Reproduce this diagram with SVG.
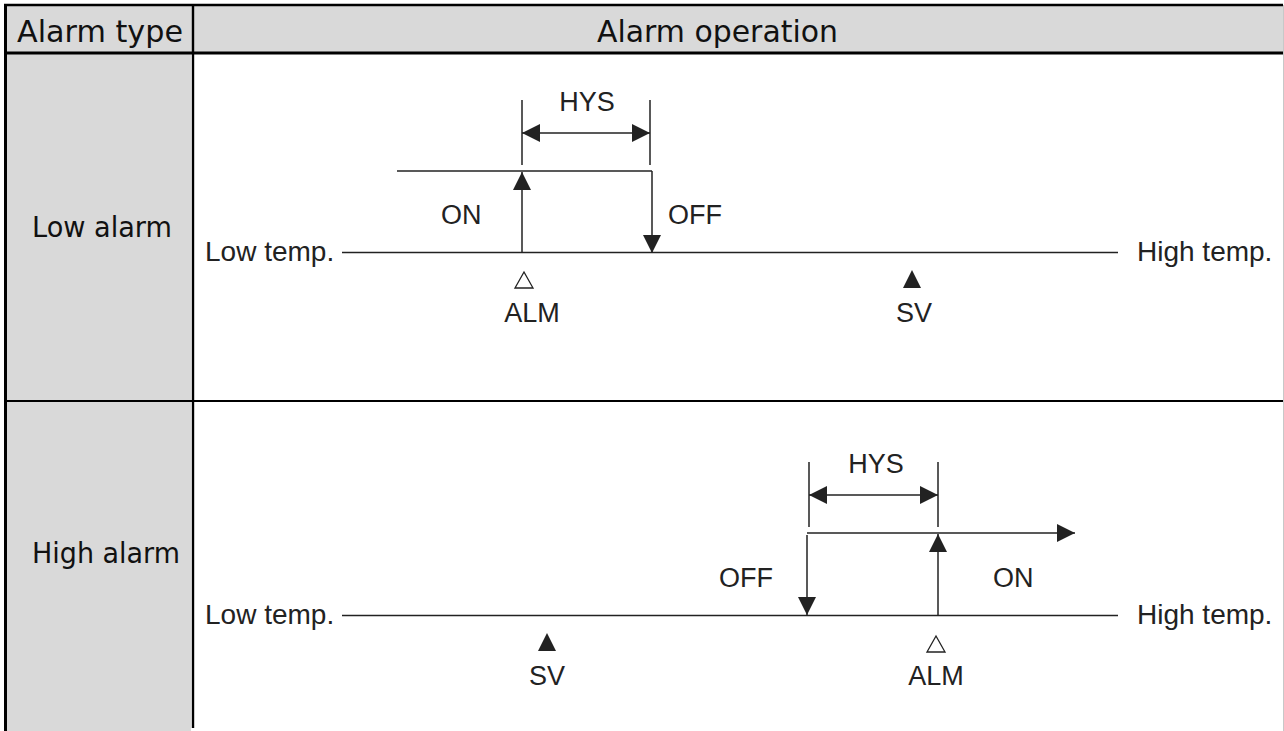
<svg xmlns="http://www.w3.org/2000/svg" width="1284" height="731" viewBox="0 0 1284 731">
<style>
.hdr{font-family:"DejaVu Sans","Liberation Sans",sans-serif;font-size:30px;fill:#111}
.rowlbl{font-family:"DejaVu Sans","Liberation Sans",sans-serif;font-size:28px;fill:#111}
.lbl{font-family:"Liberation Sans",Arial,sans-serif;font-size:27px;fill:#222}
.tmp{font-family:"Liberation Sans",Arial,sans-serif;font-size:28px;fill:#222}
.ln{stroke:#222;stroke-width:1.5;fill:none}
.tb{stroke:#000;fill:none}
.head{fill:#222}
.hollow{fill:#fff;stroke:#222;stroke-width:1.3}
</style>
<defs>
<marker id="ah" markerWidth="18" markerHeight="18" refX="18" refY="9" orient="auto" markerUnits="userSpaceOnUse">
<path d="M0,0 L18,9 L0,18 Z" fill="#222"/>
</marker>
<marker id="ahs" markerWidth="18" markerHeight="18" refX="18" refY="9" orient="auto-start-reverse" markerUnits="userSpaceOnUse">
<path d="M0,0 L18,9 L0,18 Z" fill="#222"/>
</marker>
</defs>
<rect width="1284" height="731" fill="#fff"/>
<g id="table">
<rect x="5" y="5" width="1278" height="48" fill="#d9d9d9"/>
<rect x="5" y="53" width="186" height="678" fill="#d9d9d9"/>
<line class="tb" x1="4" y1="5" x2="1283" y2="5" stroke="#333" stroke-width="2.5"/>
<line class="tb" x1="4" y1="53" x2="1283" y2="53" stroke-width="3"/>
<line class="tb" x1="4" y1="401" x2="1283" y2="401" stroke-width="2"/>
<line class="tb" x1="5.5" y1="4" x2="5.5" y2="731" stroke="#222" stroke-width="3"/>
<line class="tb" x1="193" y1="5" x2="193" y2="728" stroke-width="2.4"/>
<line x1="1283.5" y1="5" x2="1283.5" y2="731" stroke="#c8c8c8" stroke-width="1"/>
<text class="hdr" x="17" y="42" textLength="166" lengthAdjust="spacingAndGlyphs">Alarm type</text>
<text class="hdr" x="597" y="42" textLength="241" lengthAdjust="spacingAndGlyphs">Alarm operation</text>
<text class="rowlbl" x="32" y="237" textLength="140" lengthAdjust="spacingAndGlyphs">Low  alarm</text>
<text class="rowlbl" x="32" y="563" textLength="148" lengthAdjust="spacingAndGlyphs">High  alarm</text>
</g>
<g id="low-alarm">
<text class="tmp" x="205" y="261">Low temp.</text>
<text class="tmp" x="1137" y="261">High temp.</text>
<text class="lbl" x="587" y="111" text-anchor="middle">HYS</text>
<text class="lbl" x="441" y="224">ON</text>
<text class="lbl" x="668" y="224">OFF</text>
<polygon class="hollow" points="524,272 533,288 515,288"/>
<text class="lbl" x="532" y="322" text-anchor="middle">ALM</text>
<polygon class="head" points="912,270 921,288 903,288"/>
<text class="lbl" x="914" y="322" text-anchor="middle">SV</text>
</g>
<g id="high-alarm">
<text class="tmp" x="205" y="624">Low temp.</text>
<text class="tmp" x="1137" y="624">High temp.</text>
<text class="lbl" x="876" y="473" text-anchor="middle">HYS</text>
<text class="lbl" x="719" y="587">OFF</text>
<text class="lbl" x="993" y="587">ON</text>
<polygon class="hollow" points="936,636 945,652 927,652"/>
<text class="lbl" x="936" y="685" text-anchor="middle">ALM</text>
<polygon class="head" points="547,633 556,651 538,651"/>
<text class="lbl" x="547" y="685" text-anchor="middle">SV</text>
</g>
<g id="connectors">
<line class="ln" x1="342" y1="252.5" x2="1118" y2="252.5"/>
<line class="ln" x1="397" y1="171" x2="652" y2="171"/>
<line class="ln" x1="522" y1="253" x2="522" y2="172" marker-end="url(#ah)"/>
<line class="ln" x1="652" y1="171" x2="652" y2="253" marker-end="url(#ah)"/>
<line class="ln" x1="522" y1="100" x2="522" y2="165"/>
<line class="ln" x1="650" y1="100" x2="650" y2="165"/>
<line class="ln" x1="522" y1="133" x2="650" y2="133" marker-start="url(#ahs)" marker-end="url(#ah)"/>
<line class="ln" x1="342" y1="615.5" x2="1118" y2="615.5"/>
<line class="ln" x1="807" y1="533" x2="1075" y2="533" marker-end="url(#ah)"/>
<line class="ln" x1="807" y1="535" x2="807" y2="615" marker-end="url(#ah)"/>
<line class="ln" x1="938" y1="615" x2="938" y2="534" marker-end="url(#ah)"/>
<line class="ln" x1="809" y1="462" x2="809" y2="527"/>
<line class="ln" x1="938" y1="462" x2="938" y2="527"/>
<line class="ln" x1="809" y1="495" x2="938" y2="495" marker-start="url(#ahs)" marker-end="url(#ah)"/>
</g>
</svg>
